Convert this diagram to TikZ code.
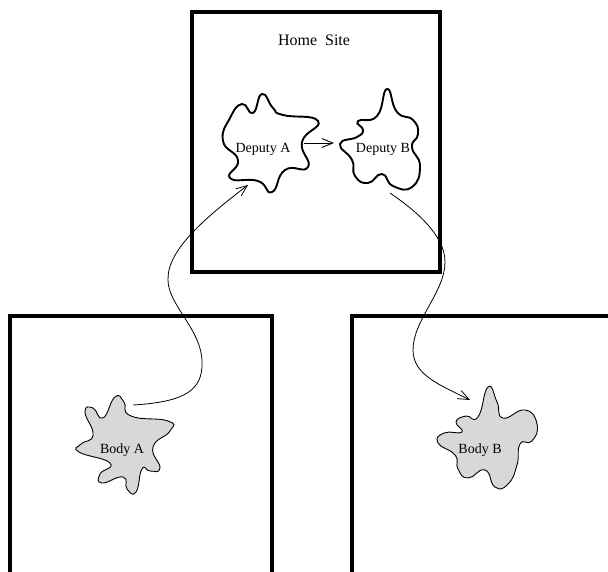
\documentclass[tikz,border=0pt]{standalone}
\usepackage{fontspec}
\setmainfont{Liberation Serif}
\usepackage{tikz}
\usetikzlibrary{arrows.meta}
\definecolor{bodygray}{RGB}{216,216,216}

\begin{document}
\begin{tikzpicture}[
    x=1pt, y=-1pt,
    site/.style={line width=3.3pt, draw=black},
    deputy/.style={line width=1.9pt, draw=black, fill=white},
    body/.style={line width=0.9pt, draw=black, fill=bodygray},
    tag/.style={inner sep=0pt, font=\fontsize{14}{16}\selectfont},
    migrate/.style={-{Straight Barb[length=11pt,width=9pt]}, line width=0.8pt},
    link/.style={-{Straight Barb[length=11pt,width=9pt]}, line width=0.9pt}
  ]
    \useasboundingbox (0,0) rectangle (608,571);
    % sites
    \draw[site] (192,12) rectangle (440,272);
    \draw[site] (10,580) -- (10,316) -- (272,316) -- (272,580);
    \draw[site] (352,580) -- (352,316) -- (620,316);
    \node[tag, font=\fontsize{16}{18}\selectfont] (home) at (314,40) {Home~ Site};
    % deputies
    \draw[deputy] plot[smooth cycle, tension=0.9] coordinates {
      (223,141) (230,118) (242,104) (253,113) (262,94) (273,108) (283,115)
      (318,121) (302,142) (308,167) (285,170) (272,192) (258,181) (230,178)
      (238,160)};
    \draw[deputy] plot[smooth cycle, tension=0.9] coordinates {
      (387,89) (397,112) (413,120) (418,134) (412,147) (420,166) (412,187)
      (393,186) (382,174) (368,183) (355,176) (352,160) (340,144) (357,137)
      (363,130) (358,121) (377,116)};
    \node[tag] (depA) at (263,149) {Deputy A};
    \node[tag] (depB) at (383,149) {Deputy B};
    % bodies
    \draw[body] plot[smooth cycle, tension=0.9] coordinates {
      (115,397) (124,402) (131,416) (168,421) (170,431) (153,447) (160,468)
      (150,471) (142,469) (136,492) (127,489) (123,477) (102,483) (100,474)
      (110,463) (79,452) (81,444) (93,435) (85,412) (93,408) (103,418)};
    \draw[body] plot[smooth cycle, tension=0.9] coordinates {
      (488,387) (497,402) (503,418) (525,410) (537,424) (532,441) (520,444)
      (517,465) (508,484) (495,487) (485,470) (468,478) (458,469) (455,455)
      (438,443) (444,433) (462,432) (456,422) (466,416) (478,417)};
    \node[tag] (bodyA) at (122,450) {Body A};
    \node[tag] (bodyB) at (480,450) {Body B};
    % connector ends
    \coordinate (depA-e) at (304,143);
    \coordinate (depB-w) at (334,143);
    \coordinate (depA-s) at (248,185);
    \coordinate (depB-s) at (390,193);
    \coordinate (bodyA-n) at (133,405);
    \coordinate (bodyB-n) at (470,400);
    % connectors
    \draw[link] (depA-e) -- (depB-w);
    \draw[migrate] (bodyA-n) .. controls (185,402) and (203,390) .. (202,362)
      .. controls (202,330) and (168,305) .. (168,280)
      .. controls (167,250) and (205,218) .. (depA-s);
    \draw[migrate] (depB-s) .. controls (415,210) and (445,235) .. (445,262)
      .. controls (445,292) and (413,320) .. (413,350)
      .. controls (413,375) and (440,385) .. (bodyB-n);
  \end{tikzpicture}
\end{document}
